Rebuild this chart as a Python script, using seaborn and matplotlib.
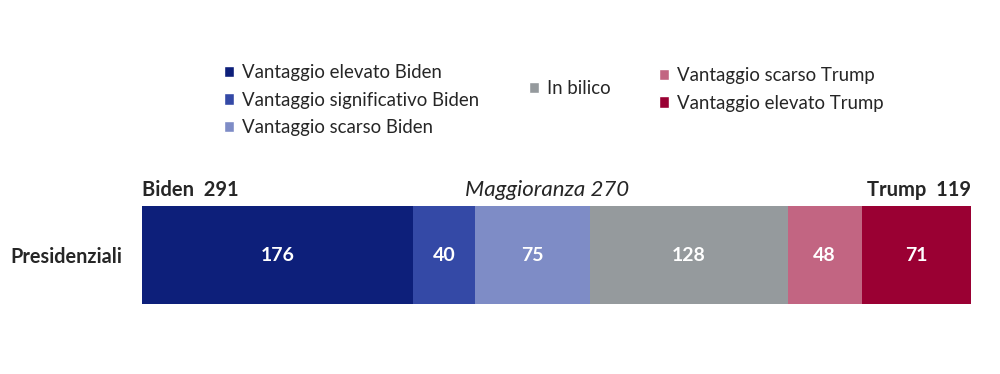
import numpy as np
import pandas as pd
import matplotlib.pyplot as plt
import seaborn as sns
from matplotlib.patches import Patch

# data
categories = ["Vantaggio elevato Biden", "Vantaggio significativo Biden",
              "Vantaggio scarso Biden", "In bilico",
              "Vantaggio scarso Trump", "Vantaggio elevato Trump"]
seats = [176, 40, 75, 128, 48, 71]
colors = ["#0D1F7A", "#3449A6", "#7E8CC6", "#959A9D", "#C26582", "#9A0033"]
row_label = "Presidenziali"
biden_total = 291
trump_total = 119
majority = 270

sns.set_theme(style="white")
plt.rcParams['font.family'] = ['Lato', 'DejaVu Sans']

fig = plt.figure(figsize=(10, 3.74), dpi=100)
ax = fig.add_axes([0.142, 0.187, 0.829, 0.262])

# stacked bar: draw cumulative totals, longest first
cum = np.cumsum(seats)
starts = cum - np.array(seats)
for i in range(len(seats) - 1, -1, -1):
    df = pd.DataFrame({"row": [row_label], "val": [cum[i]]})
    sns.barplot(data=df, x="val", y="row", color=colors[i], saturation=1,
                width=1.0, ax=ax, orient="h", linewidth=0)

for s, v in zip(starts, seats):
    ax.text(s + v / 2, 0, str(v), ha="center", va="center", color="white",
            fontsize=14, fontweight="bold")

ax.set_xlim(0, cum[-1])
ax.set_ylim(0.5, -0.5)
ax.set_xlabel("")
ax.set_ylabel("")
ax.set_xticks([])
ax.set_yticks([0])
ax.set_yticklabels([row_label], fontsize=14.3, fontweight="bold")
ax.tick_params(axis="y", length=0, pad=14)
for sp in ax.spines.values():
    sp.set_visible(False)

ax.text(0, -0.56, f"Biden  {biden_total}", ha="left", va="bottom",
        fontsize=14.5, fontweight="bold")
ax.text(cum[-1], -0.56, f"Trump  {trump_total}", ha="right", va="bottom",
        fontsize=14.5, fontweight="bold")
ax.text(majority - 7, -0.56, f"Maggioranza {majority}", ha="center", va="bottom",
        fontsize=16, style="italic")

# legend in three groups
groups = [([0, 1, 2], 0.224, 0.828), ([3], 0.529, 0.785), ([4, 5], 0.659, 0.82)]
for idx, x, y in groups:
    handles = [Patch(facecolor=colors[i], label=categories[i]) for i in idx]
    fig.legend(handles=handles, loc="upper left", bbox_to_anchor=(x, y),
               frameon=False, fontsize=13.4, handlelength=0.55, handleheight=0.55,
               handletextpad=0.4, labelspacing=0.55, borderaxespad=0,
               borderpad=0)

fig.savefig("out.png", dpi=100)
